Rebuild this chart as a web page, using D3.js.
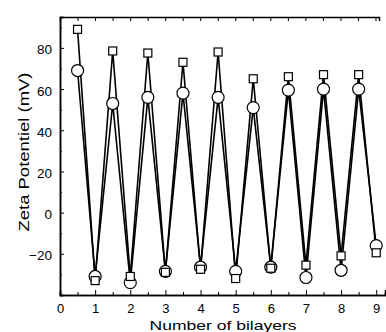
<!DOCTYPE html>
<html><head><meta charset="utf-8">
<script src="https://cdn.jsdelivr.net/npm/d3@7"></script>
<style>body{margin:0;background:#fff}svg{display:block;font-family:"Liberation Sans",Arial,sans-serif}</style>
</head><body>
<script>
const layers = [0.5,1,1.5,2,2.5,3,3.5,4,4.5,5,5.5,6,6.5,7,7.5,8,8.5,9];
const squareSeries = [89,-33,78.5,-31,77.5,-29,73,-27.5,78,-32,65,-27,66,-25.5,67,-21,67,-19.5];
const circleSeries = [69,-31,53,-34,56,-28.5,58,-26.5,56,-28.5,51,-26.5,59.5,-31.5,60,-28,60,-16];
const xTicks = [0,1,2,3,4,5,6,7,8,9];
const yTicks = [-20,0,20,40,60,80];

const W = 386, H = 332;
const svg = d3.select("body").append("svg").attr("width", W).attr("height", H);
const x = d3.scaleLinear().domain([0, 9.25]).range([60, 385]);
const y = d3.scaleLinear().domain([-40, 95]).range([295, 17]);

// bottom axis
const gx = svg.append("g").attr("transform", `translate(0,${y(-40)})`)
  .call(d3.axisBottom(x).tickValues(xTicks).tickSize(-5).tickPadding(9).tickFormat(d3.format("d")));
gx.append("g").call(d3.axisBottom(x).tickValues(d3.range(0.5, 9.5, 1)).tickSize(-3).tickFormat(""));
// top axis
svg.append("g").attr("transform", `translate(0,${y(95)})`)
  .call(d3.axisTop(x.copy().domain([0, 9.1]).range([60, 379])).tickValues(d3.range(0, 9.5, 0.5)).tickSize(-4).tickFormat(""));
// left axis
const gy = svg.append("g").attr("transform", `translate(${x(0)},0)`)
  .call(d3.axisLeft(y).tickValues(yTicks).tickSize(-4).tickPadding(8));
gy.append("g").call(d3.axisLeft(y).tickValues(d3.range(-30, 95, 20)).tickSize(-2).tickFormat(""));

svg.selectAll(".domain").attr("stroke", "#000").attr("stroke-width", 1.5);
svg.selectAll(".tick line").attr("stroke", "#000");
svg.selectAll(".tick text").attr("fill", "#000").attr("font-size", 13.5)
  .attr("font-family", "'Liberation Sans', Arial, sans-serif");
gx.selectAll(".tick text").attr("font-size", 13);
gy.selectAll(".tick text").attr("dy", "0.45em");

// lines
const line = d3.line().x((d, i) => x(layers[i])).y(d => y(d));
[squareSeries, circleSeries].forEach(s => {
  svg.append("path").datum(s).attr("d", line).attr("fill", "none").attr("stroke", "#000").attr("stroke-width", 1.6);
});

// markers
svg.append("g").selectAll("circle").data(circleSeries).join("circle")
  .attr("cx", (d, i) => x(layers[i])).attr("cy", d => y(d)).attr("r", 6)
  .attr("fill", "#fff").attr("stroke", "#000").attr("stroke-width", 1.2);
svg.append("g").selectAll("rect").data(squareSeries).join("rect")
  .attr("x", (d, i) => x(layers[i]) - 4).attr("y", d => y(d) - 4).attr("width", 8).attr("height", 8)
  .attr("fill", "#fff").attr("stroke", "#000").attr("stroke-width", 1.2);

// titles
svg.append("text").attr("x", 223).attr("y", 330).attr("text-anchor", "middle")
  .attr("font-size", 13.5).attr("textLength", 147).attr("lengthAdjust", "spacingAndGlyphs")
  .text("Number of bilayers");
svg.append("text").attr("transform", `translate(29,152) rotate(-90)`).attr("text-anchor", "middle")
  .attr("font-size", 15).attr("textLength", 159).attr("lengthAdjust", "spacingAndGlyphs")
  .text("Zeta Potentiel (mV)");
</script>
</body></html>
